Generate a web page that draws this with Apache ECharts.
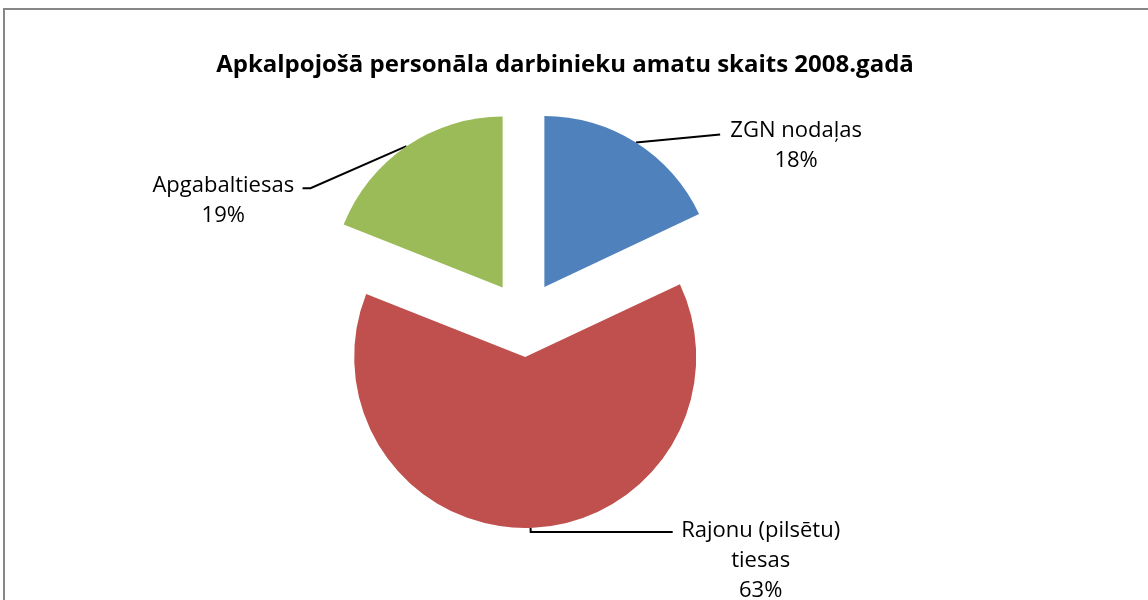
<!DOCTYPE html>
<html>
<head>
<meta charset="utf-8">
<script src="https://cdn.jsdelivr.net/npm/echarts@6/dist/echarts.min.js"></script>
<style>
  html, body { margin: 0; padding: 0; background: #fff; }
  #chart { width: 1148px; height: 600px; }
</style>
</head>
<body>
<div id="chart"></div>
<script>
// data
const categories = ["ZGN nodaļas", "Rajonu (pilsētu)\ntiesas", "Apgabaltiesas"];
const shares = [18, 63, 19];
const colors = ["#4F81BD", "#C0504D", "#9BBB59"];

const chart = echarts.init(document.getElementById("chart"));

// label layout per slice (block width for centered lines, top padding to pull first line onto the leader)
const labelWidths = [148, 160, 154];
const labelPadTop = [22, 58, 22];
const labelGap = [2, 8, 2];
const leaderLen2 = [82, 142, 102];

const pieData = categories.map((name, i) => ({
    name: name,
    value: shares[i],
    selected: true,
    itemStyle: { color: colors[i] },
    label: {
        padding: [labelPadTop[i], 0, 0, 0],
        distanceToLabelLine: labelGap[i],
        rich: { t: { width: labelWidths[i] } },
    },
    labelLine: { length2: leaderLen2[i] },
}));

const option = {
    animation: false,
    title: {
        text: "Apkalpojošā personāla darbinieku amatu skaits 2008.gadā",
        left: 560,
        textAlign: "center",
        top: 48,
        textStyle: { fontFamily: "Open Sans", fontWeight: "bold", fontSize: 24, color: "#000" },
    },
    graphic: [
        {
            type: "rect",
            shape: { x: 4, y: 9, width: 1300, height: 800 },
            style: { fill: "none", stroke: "#868686", lineWidth: 2 },
            silent: true,
        },
    ],
    series: [
        {
            type: "pie",
            center: [524, 319],
            radius: 171,
            startAngle: 90,
            clockwise: true,
            selectedMode: "multiple",
            selectedOffset: 38,
            avoidLabelOverlap: false,
            data: pieData,
            label: {
                show: true,
                position: "outside",
                color: "#000",
                fontFamily: "Open Sans",
                fontSize: 22,
                lineHeight: 30,
                formatter: (p) =>
                    p.name.split("\n").map((s) => "{t|" + s + "}").join("\n") + "\n{t|" + p.value + "%}",
                rich: {
                    t: { align: "center", color: "#000", fontFamily: "Open Sans", fontSize: 22, lineHeight: 30 },
                },
            },
            labelLine: {
                show: true,
                length: 4,
                lineStyle: { color: "#000", width: 2 },
            },
            labelLayout: (p) => {
                const pts = p.labelLinePoints;
                if (p.dataIndex === 0) {
                    pts[1] = [pts[0][0], pts[0][1]];
                    pts[2] = [pts[2][0], pts[0][1] - 8];
                    return { dy: -4, labelLinePoints: pts };
                }
                if (p.dataIndex === 2) {
                    pts[1] = [pts[0][0] - 96, pts[0][1] + 42];
                    pts[2] = [pts[1][0] - 8, pts[1][1]];
                    return { dy: 47, labelLinePoints: pts };
                }
                return {};
            },
            emphasis: { disabled: true },
        },
    ],
};

chart.setOption(option);
window.addEventListener("resize", () => chart.resize());
</script>
</body>
</html>
